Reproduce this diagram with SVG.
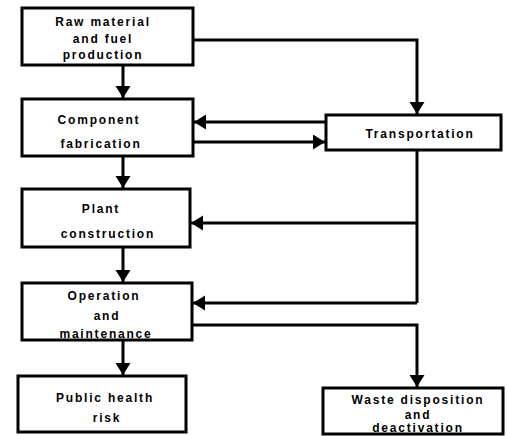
<svg xmlns="http://www.w3.org/2000/svg" width="507" height="436" viewBox="0 0 507 436">
<defs>
<marker id="ah" markerUnits="userSpaceOnUse" markerWidth="13" markerHeight="16" refX="12" refY="7.5" orient="auto">
<path d="M0,0 L12,7.5 L0,15 Z" fill="#000"/>
</marker>
<style>
.box{fill:#fff;stroke:#000;stroke-width:3}
.ln{fill:none;stroke:#000;stroke-width:3;marker-end:url(#ah)}
.pl{fill:none;stroke:#000;stroke-width:3}
text{font-family:"Liberation Sans",Arial,sans-serif;font-weight:bold;font-size:12px;letter-spacing:1.8px;text-anchor:middle;fill:#000}
</style>
</defs>
<rect width="507" height="436" fill="#fff"/>
<g id="connectors">
<line class="ln" x1="123" y1="65" x2="123" y2="98"/>
<line class="ln" x1="123" y1="156" x2="123" y2="188"/>
<line class="ln" x1="123" y1="247" x2="123" y2="282"/>
<line class="ln" x1="123" y1="340" x2="123" y2="375"/>
<polyline class="ln" points="193,40 417,40 417,114"/>
<line class="ln" x1="326" y1="122" x2="194" y2="122"/>
<line class="ln" x1="193" y1="142" x2="325" y2="142"/>
<polyline class="pl" points="417,150 417,303"/>
<line class="ln" x1="417" y1="223" x2="191" y2="223"/>
<line class="ln" x1="417" y1="303" x2="193" y2="303"/>
<polyline class="ln" points="192,325 417,325 417,387"/>
</g>
<g id="raw">
<rect class="box" x="22" y="8" width="171" height="57"/>
<text x="103" y="26">Raw material</text>
<text x="103" y="43">and fuel</text>
<text x="103" y="59">production</text>
</g>
<g id="component">
<rect class="box" x="22" y="99" width="171" height="57"/>
<text x="99" y="124">Component</text>
<text x="101" y="148">fabrication</text>
</g>
<g id="plant">
<rect class="box" x="22" y="189" width="168" height="58"/>
<text x="101" y="213">Plant</text>
<text x="108" y="238">construction</text>
</g>
<g id="operation">
<rect class="box" x="22" y="283" width="170" height="57"/>
<text x="104" y="300">Operation</text>
<text x="107" y="320">and</text>
<text x="106" y="338">maintenance</text>
</g>
<g id="public">
<rect class="box" x="18" y="376" width="168" height="56"/>
<text x="105" y="402">Public health</text>
<text x="107" y="422">risk</text>
</g>
<g id="transportation">
<rect class="box" x="326" y="115" width="175" height="35"/>
<text x="420" y="138">Transportation</text>
</g>
<g id="waste">
<rect class="box" x="323" y="388" width="180" height="46"/>
<text x="418" y="404">Waste disposition</text>
<text x="418" y="419">and</text>
<text x="418" y="432">deactivation</text>
</g>
</svg>
